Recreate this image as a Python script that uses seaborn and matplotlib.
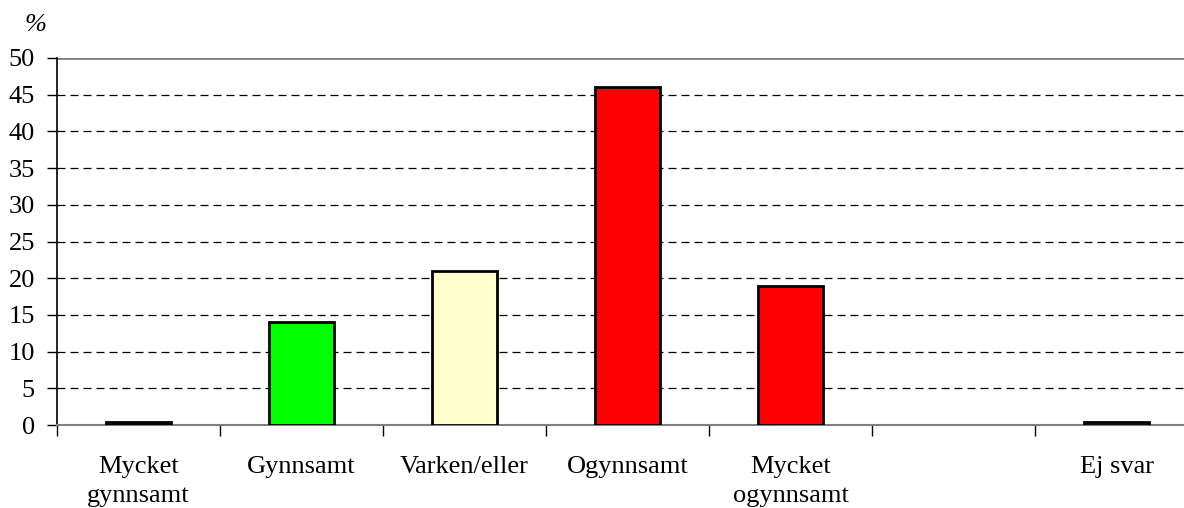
import matplotlib
matplotlib.use("Agg")
import matplotlib.pyplot as plt
import seaborn as sns
import pandas as pd
import numpy as np

categories = ["Mycket\ngynnsamt", "Gynnsamt", "Varken/eller", "Ogynnsamt", "Mycket\nogynnsamt", " ", "Ej svar"]
values = [0.4, 14, 21, 46, 19, np.nan, 0.4]
colors = ["#006600", "#00FF00", "#FFFFCC", "#FF0000", "#FF0000", "#FFFFFF", "#808080"]
yticks = [0, 5, 10, 15, 20, 25, 30, 35, 40, 45, 50]

sns.set_theme(style="white")
plt.rcParams["font.family"] = ["Liberation Serif", "DejaVu Serif"]
plt.rcParams["text.color"] = "black"
plt.rcParams["xtick.color"] = "black"
plt.rcParams["ytick.color"] = "black"
plt.rcParams["xtick.labelcolor"] = "black"
plt.rcParams["ytick.labelcolor"] = "black"

df = pd.DataFrame({"cat": categories, "val": values})
df = df.dropna()

fig = plt.figure(figsize=(11.84, 5.08), dpi=100)
ax = fig.add_axes([57/1184, 1 - 425/508, 1141/1184, 367/508])

pal = {c: col for c, col in zip(categories, colors)}
sns.barplot(data=df, x="cat", y="val", hue="cat", order=categories, hue_order=categories,
            palette=pal, saturation=1, width=0.4, edgecolor="black", linewidth=2, legend=False,
            dodge=False, ax=ax, zorder=3)

ax.set_xlim(-0.5, len(categories) - 0.5)
ax.set_ylim(0, 50)
ax.set_yticks(yticks)
ax.set_yticklabels([str(t) for t in yticks], fontsize=19, color="black")
for t in yticks[1:-1]:
    ax.axhline(t, color="black", linestyle=(0, (6.4, 4)), linewidth=0.9, zorder=1)
ax.axhline(50, color="#808080", linewidth=2, zorder=1)

ax.set_xticks(range(len(categories)))
ax.set_xticklabels(categories, fontsize=19, linespacing=1.45, color="black")
ax.tick_params(axis="x", which="major", length=0, pad=22)
ax.set_xticks([i + 0.5 for i in range(-1, len(categories))], minor=True)
ax.tick_params(axis="x", which="minor", length=8, width=1, color="black", direction="out", bottom=True)
ax.tick_params(axis="y", length=7, width=1, color="black", direction="out", left=True, pad=9)

for s in ["top", "right"]:
    ax.spines[s].set_visible(False)
ax.spines["left"].set_color("black")
ax.spines["left"].set_linewidth(1.2)
ax.spines["bottom"].set_color("#808080")
ax.spines["bottom"].set_linewidth(1.5)
ax.set_xlabel("")
ax.set_ylabel("")

fig.text(25/1184, 1 - 25/508, "%", fontsize=19, style="italic", ha="left", va="center", color="black")

fig.savefig("out.png", dpi=100)
